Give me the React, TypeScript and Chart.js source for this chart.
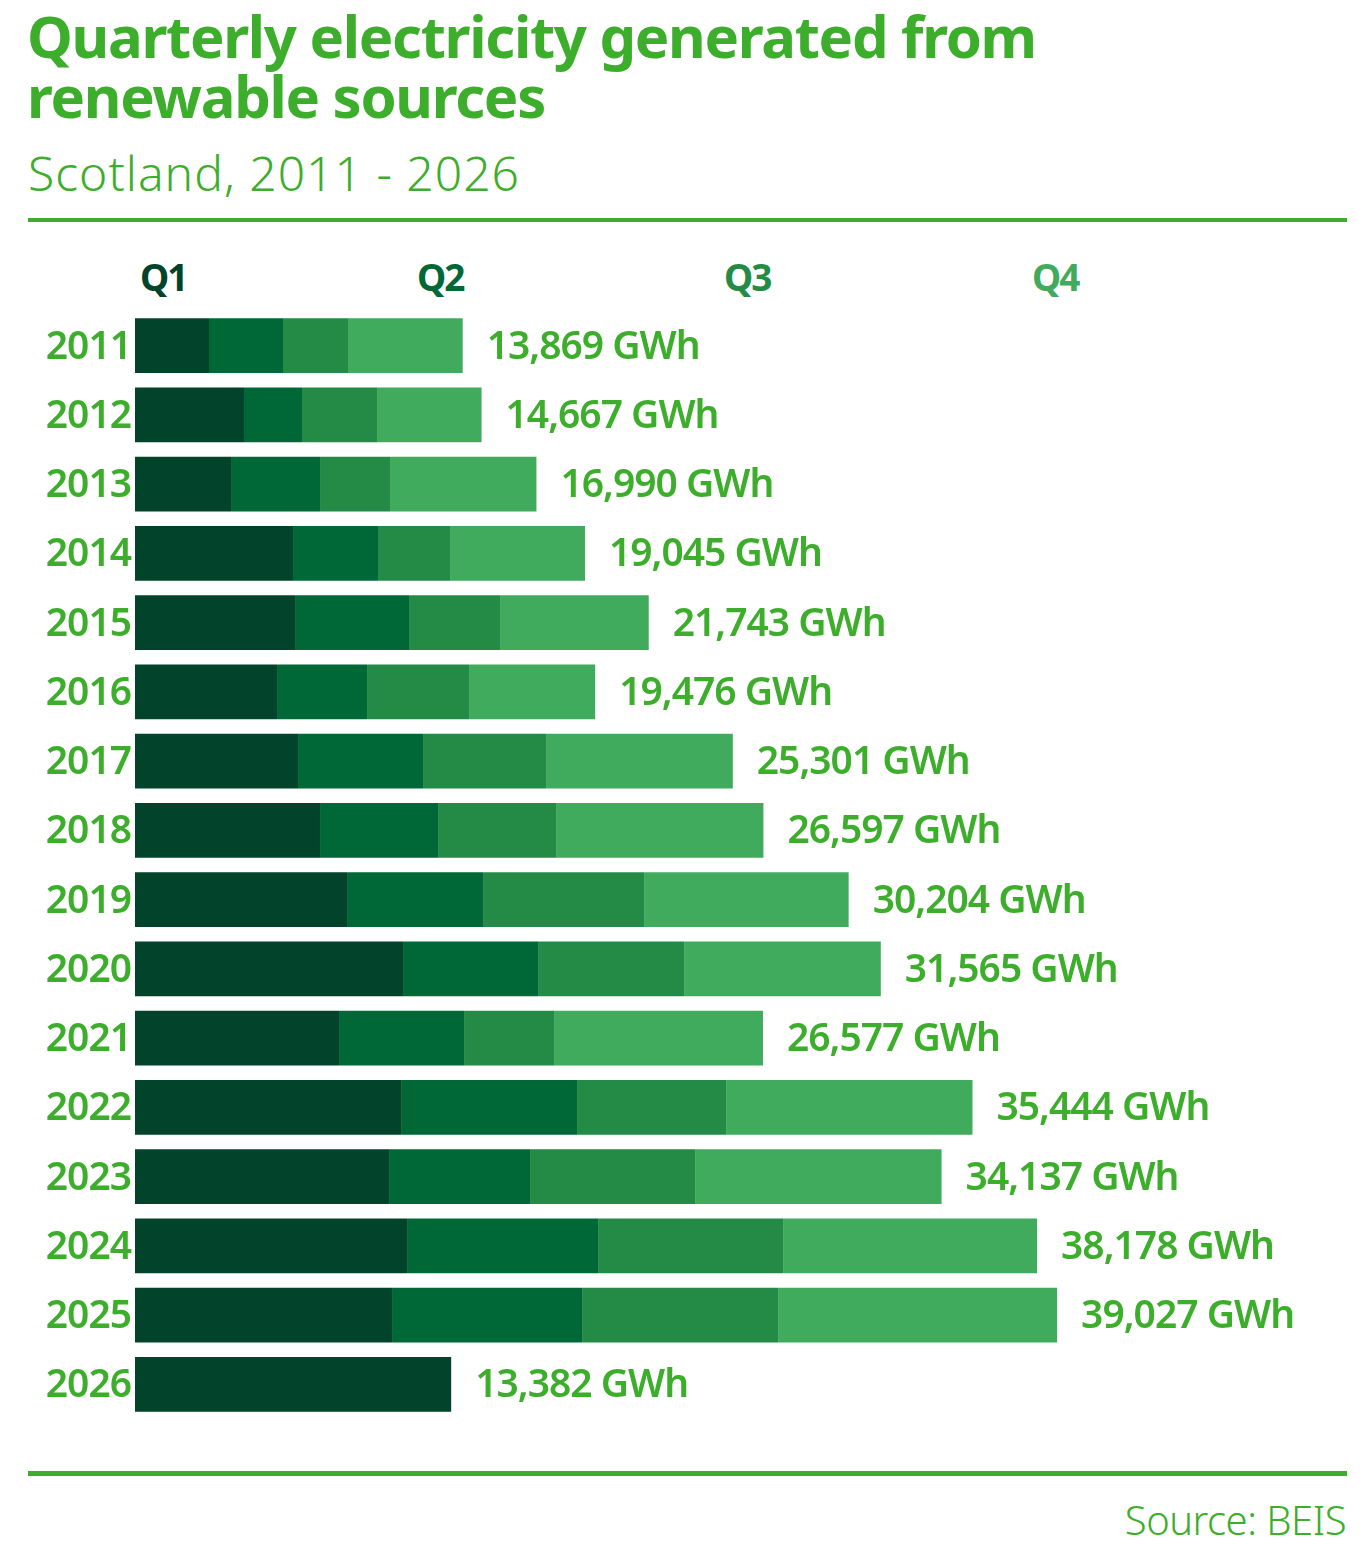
import React, { useEffect, useRef } from 'react';
import { Chart, registerables } from 'chart.js';

Chart.register(...registerables);

const years = ['2011', '2012', '2013', '2014', '2015', '2016', '2017', '2018', '2019', '2020', '2021', '2022', '2023', '2024', '2025', '2026'];
const q1 = [3132, 4614, 4064, 6688, 6773, 6011, 6900, 7831, 8974, 11344, 8635, 11260, 10752, 11514, 10879, 13382];
const q2 = [3132, 2455, 3767, 3598, 4825, 3810, 5291, 4995, 5757, 5715, 5292, 7450, 5968, 8085, 8043, 0];
const q3 = [2751, 3175, 2963, 3048, 3852, 4317, 5207, 4995, 6815, 6180, 3809, 6307, 6985, 7831, 8296, 0];
const q4 = [4854, 4423, 6196, 5711, 6293, 5338, 7903, 8776, 8658, 8326, 8841, 10427, 10432, 10748, 11809, 0];
const totals = [13869, 14667, 16990, 19045, 21743, 19476, 25301, 26597, 30204, 31565, 26577, 35444, 34137, 38178, 39027, 13382];
const quarterNames = ['Q1', 'Q2', 'Q3', 'Q4'];
const quarterColors = ['#02432b', '#006837', '#238b45', '#41ab5d'];

const GREEN = '#3dae2b';
const FONT = '"Noto Sans", sans-serif';

const labelsPlugin = {
  id: 'sideLabels',
  afterDatasetsDraw(chart: any) {
    const { ctx, chartArea } = chart;
    const xs = chart.scales.x;
    const meta = chart.getDatasetMeta(0);
    ctx.save();
    ctx.fillStyle = GREEN;
    ctx.textBaseline = 'middle';
    ctx.font = `600 39px ${FONT}`;
    (ctx as any).letterSpacing = '-1px';
    meta.data.forEach((bar: any, i: number) => {
      const y = bar.y + 2;
      ctx.textAlign = 'right';
      ctx.fillText(years[i], chartArea.left - 4, y);
      ctx.textAlign = 'left';
      ctx.fillText(totals[i].toLocaleString('en-GB') + ' GWh', xs.getPixelForValue(totals[i]) + 24, y);
    });
    ctx.restore();
  },
};

export default function App() {
  const canvasRef = useRef<HTMLCanvasElement | null>(null);

  useEffect(() => {
    document.body.style.margin = '0';
    const canvas = canvasRef.current;
    if (!canvas) return;
    const series = [q1, q2, q3, q4];
    const chart = new Chart(canvas, {
      type: 'bar',
      data: {
        labels: years,
        datasets: series.map((d, i) => ({
          label: quarterNames[i],
          data: d,
          backgroundColor: quarterColors[i],
          borderWidth: 0,
          barPercentage: 0.79,
          categoryPercentage: 1,
        })),
      },
      options: {
        indexAxis: 'y',
        animation: false,
        responsive: false,
        maintainAspectRatio: false,
        layout: { padding: { left: 135, right: 0, top: 0, bottom: 0 } },
        plugins: { legend: { display: false }, tooltip: { enabled: false } },
        scales: {
          x: { stacked: true, display: false, min: 0, max: 52100 },
          y: { stacked: true, display: false },
        },
      },
      plugins: [labelsPlugin],
    });
    return () => chart.destroy();
  }, []);

  const qPos = [140, 417, 724, 1032];

  return (
    <div style={{ position: 'relative', width: 1366, height: 1561, background: '#fff', fontFamily: FONT, color: GREEN, overflow: 'hidden' }}>
      <div style={{ position: 'absolute', left: 27, top: 6, fontSize: 58, fontWeight: 700, lineHeight: '60px', letterSpacing: -1.3 }}>
        Quarterly electricity generated from
        <br />
        renewable sources
      </div>
      <div style={{ position: 'absolute', left: 28, top: 143, fontSize: 48, fontWeight: 300, lineHeight: '60px', letterSpacing: 1 }}>
        Scotland, 2011 - 2026
      </div>
      <div style={{ position: 'absolute', left: 28, top: 218, width: 1319, height: 4, background: GREEN }} />
      {quarterNames.map((q, i) => (
        <div
          key={q}
          style={{ position: 'absolute', left: qPos[i], top: 255, fontSize: 37, fontWeight: 700, lineHeight: '44px', letterSpacing: -2, color: quarterColors[i] }}
        >
          {q}
        </div>
      ))}
      <canvas ref={canvasRef} width={1366} height={1108} style={{ position: 'absolute', left: 0, top: 311, width: 1366, height: 1108 }} />
      <div style={{ position: 'absolute', left: 28, top: 1471, width: 1319, height: 5, background: GREEN }} />
      <div style={{ position: 'absolute', right: 20, top: 1496, fontSize: 40, fontWeight: 300, lineHeight: '48px', letterSpacing: -0.5 }}>
        Source: BEIS
      </div>
    </div>
  );
}
